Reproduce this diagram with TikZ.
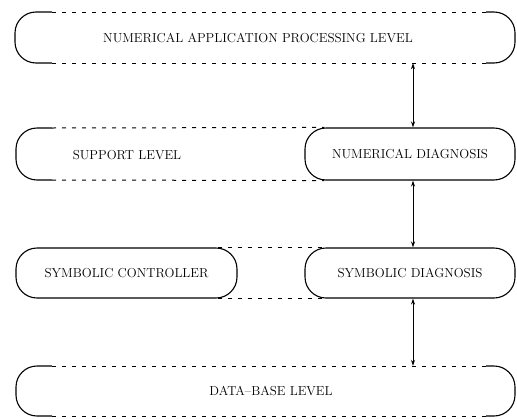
\documentclass[tikz,border=0pt]{standalone}
\usetikzlibrary{arrows.meta,calc}
\begin{document}
\begin{tikzpicture}[x=1pt,y=-1pt,
  lbl/.style={font=\fontsize{13}{15}\selectfont, inner sep=0pt},
  boxx/.style={lbl, draw, rounded corners=21pt, line width=1.1pt},
  dsh/.style={line width=1pt, dash pattern=on 4pt off 6pt},
  capline/.style={line width=1.1pt, rounded corners=21pt},
  dbl/.style={line width=0.9pt, {Stealth[length=6pt,width=4pt]}-{Stealth[length=6pt,width=4pt]}}]
\useasboundingbox (0,0) rectangle (517,418);

% band 1: numerical application processing level (y 12..63)
\node[lbl, minimum height=51pt] (napl) at (258,37.5) {NUMERICAL APPLICATION PROCESSING LEVEL};
\draw[capline] (52,12) -- (15,12) -- (15,63) -- (52,63);
\draw[capline] (486,12) -- (515,12) -- (515,63) -- (486,63);
\draw[dsh] (52,12) -- (486,12);
\draw[dsh] (52,63) -- (486,63);

% band 2: support level (y 128..180)
\node[lbl] (sup) at (127,155) {SUPPORT LEVEL};
\node[boxx, minimum width=210pt, minimum height=52pt] (nd) at (410,154) {NUMERICAL DIAGNOSIS};
\draw[capline] (52,128) -- (16,128) -- (16,180) -- (52,180);
\draw[dsh] (52,128) -- ($(nd.north west)+(20,0)$);
\draw[dsh] (52,180) -- ($(nd.south west)+(20,0)$);

% band 3: symbolic row (y 248..298)
\node[boxx, minimum width=221pt, minimum height=50pt] (sc) at (126.5,273) {SYMBOLIC CONTROLLER};
\node[boxx, minimum width=210pt, minimum height=50pt] (sd) at (410,273) {SYMBOLIC DIAGNOSIS};
\draw[dsh] ($(sc.north east)+(-20,0)$) -- ($(sd.north west)+(20,0)$);
\draw[dsh] ($(sc.south east)+(-20,0)$) -- ($(sd.south west)+(20,0)$);

% band 4: data-base level (y 366..416)
\node[lbl, minimum height=50pt] (db) at (271,391) {DATA--BASE LEVEL};
\draw[capline] (52,366) -- (16,366) -- (16,416) -- (52,416);
\draw[capline] (486,366) -- (515,366) -- (515,416) -- (486,416);
\draw[dsh] (52,366) -- (486,366);
\draw[dsh] (52,416) -- (486,416);

% arrows
\draw[dbl] ([xshift=3pt]nd.north |- napl.south) -- ([xshift=3pt]nd.north);
\draw[dbl] ([xshift=3pt]nd.south) -- ([xshift=3pt]sd.north);
\draw[dbl] ([xshift=3pt]sd.south) -- ([xshift=3pt]sd.south |- db.north);
\end{tikzpicture}
\end{document}
